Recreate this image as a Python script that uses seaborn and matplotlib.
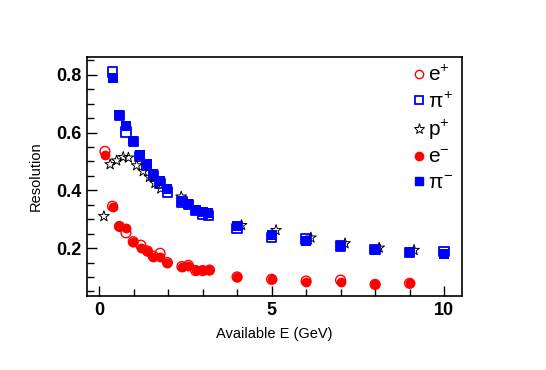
import matplotlib
matplotlib.use("Agg")
import matplotlib.pyplot as plt
import numpy as np
import pandas as pd
import seaborn as sns
from matplotlib.ticker import MultipleLocator, FuncFormatter
from matplotlib.lines import Line2D

# ---- data ----
e_x = [0.17, 0.39, 0.59, 0.78, 0.99, 1.21, 1.40, 1.57, 1.77, 1.98, 2.40, 2.59,
       2.80, 3.00, 3.20, 4.0, 5.0, 6.0, 7.0, 8.0, 9.0]
e_minus_y = [0.524, 0.342, 0.276, 0.268, 0.221, 0.201, 0.190, 0.170, 0.170, 0.149,
             0.136, 0.139, 0.124, 0.124, 0.124, 0.101, 0.092, 0.084, 0.082, 0.075, 0.078]
e_plus_y = [0.535, 0.345, 0.275, 0.253, 0.222, 0.210, 0.190, 0.172, 0.182, 0.150,
            0.136, 0.140, 0.122, 0.122, 0.124, 0.100, 0.092, 0.086, 0.089, 0.074, 0.078]

pi_x = [0.39, 0.59, 0.78, 0.99, 1.18, 1.38, 1.57, 1.77, 1.98, 2.40, 2.59, 2.80,
        3.00, 3.17, 4.0, 5.0, 6.0, 7.0, 8.0, 9.0, 10.0]
pi_minus_y = [0.790, 0.661, 0.622, 0.572, 0.521, 0.490, 0.455, 0.431, 0.403, 0.362,
              0.354, 0.333, 0.325, 0.320, 0.276, 0.245, 0.225, 0.207, 0.195, 0.185, 0.179]
pi_plus_y = [0.810, 0.660, 0.602, 0.569, 0.517, 0.486, 0.452, 0.423, 0.394, 0.360,
             0.350, 0.330, 0.318, 0.314, 0.268, 0.237, 0.232, 0.207, 0.195, 0.185, 0.187]

p_x = [0.14, 0.32, 0.51, 0.70, 0.85, 1.09, 1.28, 1.46, 1.62, 1.79, 2.38,
       4.13, 5.13, 6.14, 7.13, 8.12, 9.13]
p_y = [0.310, 0.490, 0.503, 0.515, 0.513, 0.486, 0.466, 0.446, 0.425, 0.406, 0.378,
       0.279, 0.262, 0.236, 0.216, 0.201, 0.193]

labels = [r"e$^{+}$", r"$\pi^{+}$", r"p$^{+}$", r"e$^{-}$", r"$\pi^{-}$"]

sns.set_theme(style="white")
plt.rcParams["font.family"] = ["Liberation Sans", "DejaVu Sans"]
plt.rcParams["mathtext.fontset"] = "custom"
plt.rcParams["mathtext.rm"] = "Liberation Sans"
plt.rcParams["mathtext.it"] = "Liberation Sans"
plt.rcParams["text.color"] = "black"
plt.rcParams["axes.labelcolor"] = "black"
plt.rcParams["xtick.color"] = "black"
plt.rcParams["ytick.color"] = "black"

fig = plt.figure(figsize=(5.46, 3.70), dpi=100)
ax = fig.add_axes([87/546, 1-296/370, (462-87)/546, (296-57)/370])

df_e = pd.DataFrame({"E": e_x, "em": e_minus_y, "ep": e_plus_y})
df_pi = pd.DataFrame({"E": pi_x, "pm": pi_minus_y, "pp": pi_plus_y})
df_p = pd.DataFrame({"E": p_x, "p": p_y})

sns.scatterplot(data=df_e, x="E", y="ep", ax=ax, marker="o", s=50,
                facecolor="none", edgecolor="red", linewidth=1.0)
sns.scatterplot(data=df_pi, x="E", y="pp", ax=ax, marker="s", s=45,
                facecolor="none", edgecolor="blue", linewidth=1.3)
sns.scatterplot(data=df_p, x="E", y="p", ax=ax, marker="*", s=65,
                facecolor="none", edgecolor="black", linewidth=0.7)
sns.scatterplot(data=df_e, x="E", y="em", ax=ax, marker="o", s=50,
                color="red", edgecolor="red", linewidth=0)
sns.scatterplot(data=df_pi, x="E", y="pm", ax=ax, marker="s", s=45,
                color="blue", edgecolor="blue", linewidth=0)

ax.set_xlim(-0.35, 10.52)
ax.set_ylim(0.034, 0.862)
ax.xaxis.set_major_locator(MultipleLocator(5))
ax.xaxis.set_minor_locator(MultipleLocator(1))
ax.yaxis.set_major_locator(MultipleLocator(0.2))
ax.yaxis.set_minor_locator(MultipleLocator(0.05))
ax.tick_params(which="both", direction="in", color="black", width=1.0,
               bottom=True, left=True, top=False, right=False)
ax.tick_params(which="major", length=7, labelsize=13, pad=4)
ax.tick_params(which="minor", length=5)
ax.yaxis.set_major_formatter(FuncFormatter(
    lambda v, p: "0" if abs(v) < 1e-9 else f"{v:.1f}"))
for lab in ax.get_xticklabels() + ax.get_yticklabels():
    lab.set_fontweight("bold")
for s in ax.spines.values():
    s.set_visible(True)
    s.set_color("black")
    s.set_linewidth(1.2)

ax.set_xlabel("Available E (GeV)", fontsize=10.5, labelpad=6)
ax.set_ylabel("Resolution", fontsize=10.5, labelpad=10)

handles = [
    Line2D([], [], ls="none", marker="o", ms=6, mfc="none", mec="red", mew=1.0),
    Line2D([], [], ls="none", marker="s", ms=6, mfc="none", mec="blue", mew=1.3),
    Line2D([], [], ls="none", marker="*", ms=8, mfc="none", mec="black", mew=0.7),
    Line2D([], [], ls="none", marker="o", ms=6, mfc="red", mec="red"),
    Line2D([], [], ls="none", marker="s", ms=6, mfc="blue", mec="blue"),
]
ax.legend(handles, labels, loc="upper right", frameon=False, fontsize=15,
          handlelength=0.6, handletextpad=0.15, labelspacing=0.3,
          borderaxespad=0.0, bbox_to_anchor=(1.0, 1.0))

fig.savefig("out.png", dpi=100, facecolor="white")
